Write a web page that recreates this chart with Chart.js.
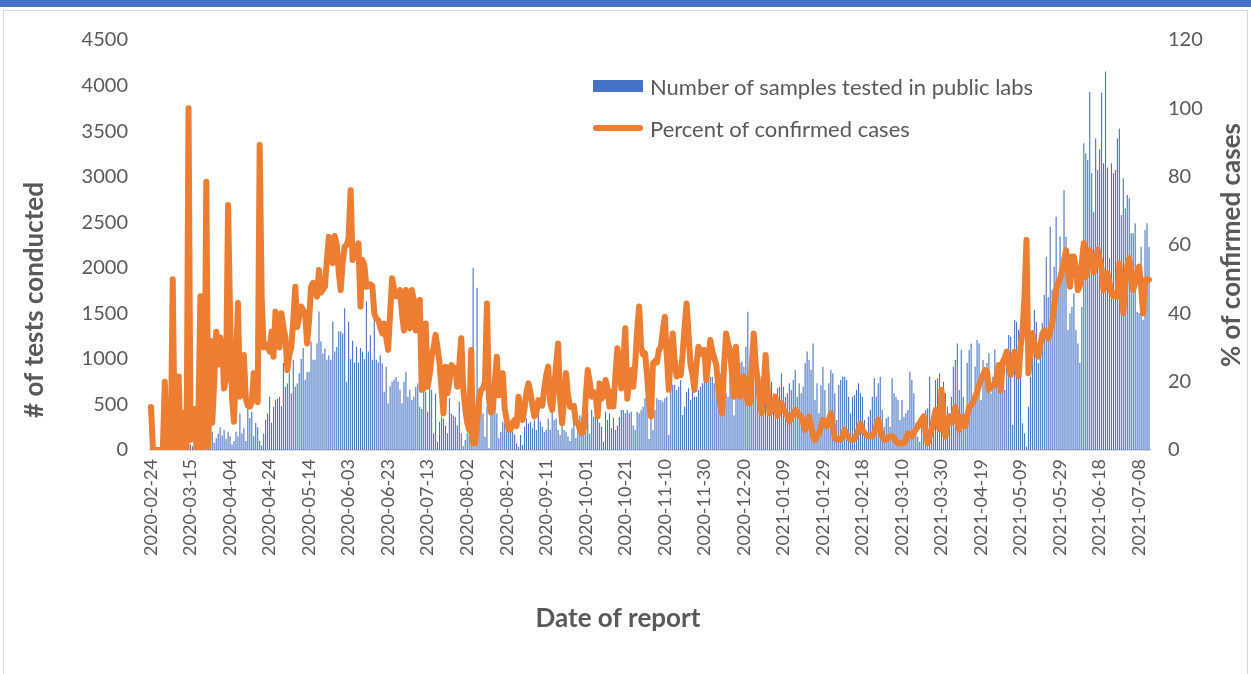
<!DOCTYPE html>
<html>
<head>
<meta charset="utf-8">
<script src="https://cdn.jsdelivr.net/npm/chart.js@4.4.1/dist/chart.umd.min.js"></script>
<style>
  html, body { margin: 0; padding: 0; background: #fff; }
  #wrap { position: relative; width: 1251px; height: 674px; overflow: hidden; font-family: Lato, sans-serif; }
  #topbar { position: absolute; left: 0; top: 0; width: 1251px; height: 7px; background: #4472C4; }
  #frame { position: absolute; left: 3px; top: 10px; width: 1243px; height: 670px; border: 1px solid #d9d9d9; }
  #chart { position: absolute; left: 0; top: 0; }
  #legend { position: absolute; left: 593px; top: 65px; color: #595959; font-size: 22px; }
  .item { display: flex; align-items: center; height: 42px; white-space: nowrap; }
  .swatch { width: 50px; margin-right: 7px; }
</style>
</head>
<body>
<div id="wrap">
  <div id="topbar"></div>
  <div id="frame"></div>
  <canvas id="chart" width="1251" height="674"></canvas>
  <div id="legend"></div>
</div>
<script>
// ---------- Data (daily, first day 2020-02-24) ----------
const firstDay = '2020-02-24';
const tickEvery = 20;

// # of samples tested in public labs
const testsDaily = [
  0,0,0,0,0,0,0,5,10,15,10,30,20,40,25,50,30,40,60,45,
  60,40,80,50,100,70,40,90,120,60,150,200,80,130,180,250,160,220,120,200,
  150,60,100,200,150,400,180,240,100,480,350,420,150,300,250,100,50,180,330,400,
  585,300,475,550,560,585,480,955,695,730,842,620,988,695,730,842,1000,1120,770,860,
  855,1190,990,990,1170,1520,1190,1060,1115,990,1040,990,1410,1080,1130,1300,1300,1280,1555,750,
  1410,1000,1200,960,1130,960,1120,1080,1000,1630,1080,1260,990,1540,990,960,1040,950,640,915,
  512,700,750,770,800,750,660,512,750,860,585,660,550,585,695,730,475,450,770,640,
  420,770,660,183,620,90,310,365,345,270,183,567,400,380,365,270,530,183,40,110,
  183,365,730,2000,40,1780,400,700,400,146,475,20,420,400,475,400,128,201,311,290,
  256,240,220,200,170,73,37,165,55,256,347,290,311,240,330,220,457,311,256,200,
  220,347,220,475,330,347,220,165,365,220,200,150,100,240,320,128,256,380,365,180,
  200,420,180,439,365,365,350,300,256,91,420,330,403,240,350,220,270,365,439,439,
  403,439,403,420,270,220,420,403,439,475,567,530,120,403,220,439,567,549,549,530,
  567,585,165,658,713,713,658,695,768,384,475,640,677,549,677,585,585,658,695,732,
  878,878,823,805,805,732,713,787,842,768,658,622,585,805,878,380,768,955,955,970,
  915,1134,1518,988,915,842,768,732,732,805,732,695,713,805,750,622,549,677,695,842,
  695,585,622,732,658,768,878,585,732,622,695,955,1080,988,878,1170,549,732,403,710,
  915,658,329,732,878,842,622,329,713,768,805,805,768,585,403,585,603,658,732,622,
  585,329,183,365,439,585,787,585,732,805,439,256,347,365,256,787,622,585,549,329,
  549,365,403,439,860,768,622,293,146,91,329,365,439,457,805,220,311,768,787,842,
  329,750,622,475,403,585,915,988,1170,658,1100,585,403,955,1100,1170,585,915,1207,1170,
  549,988,842,955,1061,622,805,1100,732,842,955,805,658,988,1262,1243,275,1427,1408,1317,
  805,293,183,37,475,805,1317,1537,1408,955,1280,1390,1700,2122,1680,2451,1760,2010,2561,1830,
  2341,2122,2854,2341,1317,1500,1570,1720,1317,1170,955,1570,3367,3257,3184,3930,3037,2616,3420,3074,
  3300,3920,3147,4153,3100,2104,3147,3037,3074,3420,3530,2580,2983,2653,2800,2763,2378,2378,2488,1518,
  1500,2232,1427,2415,2488,2232
];

// Percent of confirmed cases
const pctConfirmed = [
  12.6,0,0,0,0,0,0,20,0,0,0,50,2,0,21.5,0,5,11,0,100,
  3,8,12,0,10,45,0,5,78.5,1,32,8,20,34.6,25,33,30,18,21,71.7,
  40,15,8.3,25,43,15.6,20,27.8,15,13,12.7,14,22.5,18,14,89.3,45,30,31,30.5,
  28.8,34.6,27.3,40.5,34,30,40,36,33,23.4,28,30,38,47.8,36,39,42,41,40,31.2,
  38,47.8,48.9,47,44.9,52.7,46,47,47.8,55.6,62.4,58,54.7,62.6,60,52,46.8,55,59.5,60,
  62,76,55.6,58,59,60.5,42,55.6,54,47.8,48,48.5,48,40,38.5,38,36,34.1,37,33,
  29.3,40,50.3,47,45,44.9,46.8,40,35,46.8,40,35.6,46.8,43.9,35,35.5,43.9,17.6,18,37,
  18.5,22,27.3,30,33.7,30,25.4,18,10.7,24.4,16.6,20,24.9,24,24,18.5,25,32.7,18,12,
  8,5.9,29.3,2,2,8,15,17.6,18,20,42.9,15,11,12,20,27.3,16,18,22.5,12,
  8.8,5.9,6,8,8.8,7,15.6,12,8.8,12,17,19.5,17,13,9.8,11,14.6,14,13,18,
  22,24.4,14,11.7,18,25,31.2,15,7.8,15,22.5,16,12.7,12.5,12.9,8,7.9,6,4.9,6,
  15.6,23.4,20,15.6,17,16,9.8,19.5,15,16,20.5,18,12.7,17,12.7,22,29.8,25,18,26,
  35.6,15,20,23.4,18.5,25,35,42,30,28,28.3,22,14,9.8,25.4,26,25.6,29.3,30.2,35,
  39,28,17.6,28,34.1,26,21.5,22,21.9,28,36,42.9,34,25,22,17.6,25,30.2,29,28,
  29.3,20.5,26,32.2,29,27,25,19,13,10.7,25,34.1,31,29.3,22,15.6,30.2,20,15.6,18,
  21.5,18,13.7,13.7,25,34.1,25,20.5,15,10.7,18,27.8,18,10.7,11.7,12.5,15.6,10,12,13.7,
  12,11,10,8.3,9.5,10.5,11.7,11,10,9.8,8,5.9,8,9.8,7,4,2.9,4,4.9,6.8,
  8.8,7.8,7,9,10.7,7,3.4,3,3.2,3,4,5.9,4.5,3.5,3,3,3.2,4.5,6,7.8,
  6,4.9,4.5,4,4.2,4,5,7,8.8,6,4,3,3,3.5,4,4,3.5,2.5,2,2,
  2,2,3,4.9,4.5,4,5,6,6.8,8,9,9.8,5,2,4,6,9,11.7,8,6,
  17.6,10,3.9,8,9.8,8,10,12.7,8,5.9,9.8,8.5,7,10,12.7,13,14,15.6,17,19,
  20.5,22,23.4,23,17.6,18.5,19,19,22,24.9,17.4,25.8,27,28.8,25,22,26,28.8,25,21.5,
  30,35,45,61.5,22.5,28,34.1,31,29,27.3,31,34,35,33.5,32.7,35,37,42,47,48.8,
  50,52.7,55,58.5,52,47.8,56.6,56.6,53,46.8,48,55,60.5,50.7,54,58.5,56,52,55,58.7,
  56,53,46.8,49,51.7,49,46,45,46,44.9,54.6,48,40,48,54,56.1,52,46.8,49,52,
  53.7,48,40,49.8,50,49.8
];

// ---------- Date labels ----------
const start = new Date(firstDay + 'T00:00:00Z');
const dateLabels = testsDaily.map((_, i) =>
  new Date(start.getTime() + i * 86400000).toISOString().slice(0, 10));

const textGrey = '#595959';
const tickFont = { family: 'Lato', size: 20 };
const titleFont = 'bold 26px Lato';

// axis titles placed like the original (y titles read bottom-to-top)
const axisTitles = {
  id: 'axisTitles',
  afterDraw(chart) {
    const ctx = chart.ctx;
    const area = chart.chartArea;
    const draw = (text, x, y, rot) => {
      ctx.save();
      ctx.translate(x, y);
      ctx.rotate(rot);
      ctx.font = titleFont;
      ctx.fillStyle = textGrey;
      ctx.textAlign = 'center';
      ctx.textBaseline = 'middle';
      ctx.fillText(text, 0, 0);
      ctx.restore();
    };
    draw('# of tests conducted', 35, area.bottom - 150, -Math.PI / 2);
    draw('% of confirmed cases', 1232, (area.top + area.bottom) / 2, -Math.PI / 2);
    draw('Date of report', 618, 619, 0);
  }
};

const chart = new Chart(document.getElementById('chart').getContext('2d'), {
  data: {
    labels: dateLabels,
    datasets: [
      {
        type: 'bar',
        label: 'Number of samples tested in public labs',
        data: testsDaily,
        backgroundColor: '#4472C4',
        barPercentage: 0.55,
        categoryPercentage: 1.0,
        yAxisID: 'y',
        order: 2
      },
      {
        type: 'line',
        label: 'Percent of confirmed cases',
        data: pctConfirmed,
        borderColor: '#ED7D31',
        backgroundColor: '#ED7D31',
        borderWidth: 6,
        borderJoinStyle: 'round',
        borderCapStyle: 'round',
        pointRadius: 0,
        tension: 0,
        yAxisID: 'y1',
        order: 1
      }
    ]
  },
  options: {
    responsive: false,
    animation: false,
    layout: { padding: { top: 40, left: 0, right: 0, bottom: 0 } },
    plugins: { legend: { display: false }, tooltip: { enabled: false } },
    scales: {
      x: {
        offset: true,
        grid: { display: false, drawTicks: false },
        border: { display: true, color: '#d9d9d9', width: 2 },
        ticks: {
          autoSkip: false, maxRotation: 90, minRotation: 90, padding: 9,
          color: textGrey, font: { family: 'Lato', size: 18 },
          callback: (v, i) => (i % tickEvery === 0 ? dateLabels[i] : '')
        },
        afterFit: s => { s.height = 224; }
      },
      y: {
        position: 'left',
        min: 0, max: 4500,
        grid: { display: false, drawTicks: false },
        border: { display: false },
        ticks: { stepSize: 500, padding: 22, color: textGrey, font: tickFont, callback: v => String(v) },
        afterFit: s => { s.width = 150; }
      },
      y1: {
        position: 'right',
        min: 0, max: 120,
        grid: { display: false, drawTicks: false },
        border: { display: false },
        ticks: { stepSize: 20, padding: 18, color: textGrey, font: tickFont, callback: v => String(v) },
        afterFit: s => { s.width = 101; }
      }
    }
  },
  plugins: [axisTitles]
});

// ---------- HTML legend ----------
const legendEl = document.getElementById('legend');
chart.data.datasets.forEach(ds => {
  const row = document.createElement('div');
  row.className = 'item';
  const sw = document.createElement('span');
  sw.className = 'swatch';
  if (ds.type === 'line') {
    sw.style.height = '6px';
    sw.style.borderRadius = '3px';
    sw.style.background = ds.borderColor;
  } else {
    sw.style.height = '12px';
    sw.style.background = ds.backgroundColor;
  }
  const txt = document.createElement('span');
  txt.textContent = ds.label;
  row.appendChild(sw);
  row.appendChild(txt);
  legendEl.appendChild(row);
});
</script>
</body>
</html>
